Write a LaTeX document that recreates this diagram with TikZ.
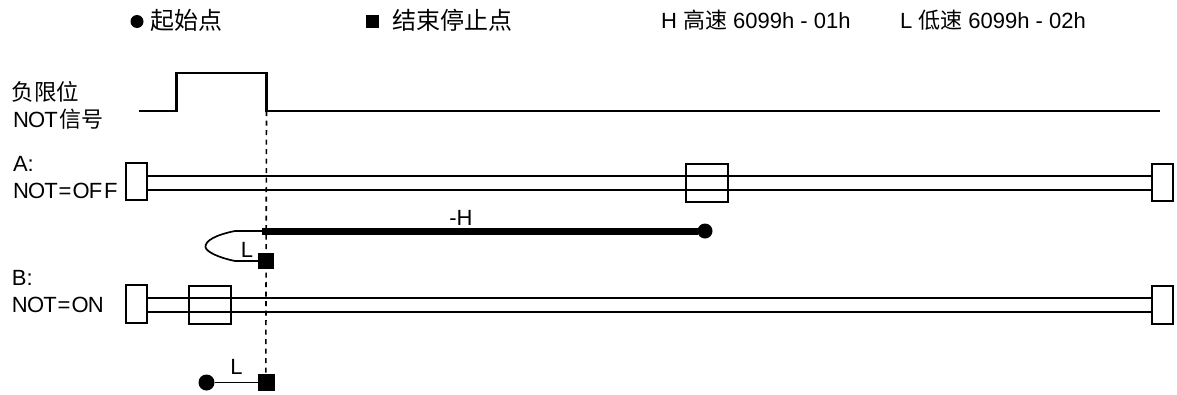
\documentclass[tikz,border=0pt]{standalone}
\usepackage{fontspec}
\setmainfont{Liberation Sans}
\newfontfamily\cjk{Noto Sans CJK SC}
\begin{document}
\begin{tikzpicture}[x=1pt,y=-1pt,
  sig/.style={line width=2.4pt,black},
  rail/.style={line width=2.2pt,black},
  stopbox/.style={draw=black,line width=2.4pt,fill=white,minimum width=21pt,minimum height=37pt,inner sep=0pt,outer sep=0pt},
  posbox/.style={draw=black,line width=2.4pt,minimum width=42pt,minimum height=38pt,inner sep=0pt,outer sep=0pt},
  startdot/.style={circle,fill=black,inner sep=0pt,outer sep=0pt,minimum size=15pt},
  enddot/.style={rectangle,fill=black,inner sep=0pt,outer sep=0pt,minimum size=16pt},
  lbl/.style={font=\fontsize{22}{25}\selectfont,inner sep=0pt,outer sep=0pt,text=black},
  head/.style={font=\fontsize{22}{25}\selectfont,inner sep=0pt,outer sep=0pt,anchor=base west,text=black}]
\useasboundingbox (0,0) rectangle (1177,394);
% legend
\node[circle,fill=black,inner sep=0pt,minimum size=13pt] (lc) at (137,21.5) {};
\node[head,font=\fontsize{24}{27}\selectfont\cjk] (lt1) at (150,29) {起始点};
\node[rectangle,fill=black,inner sep=0pt,minimum size=13pt] (ls) at (372.5,21) {};
\node[head,font=\fontsize{24}{27}\selectfont\cjk] (lt2) at (392,29) {结束停止点};
\node[head] (lt3) at (661,28) {H {\cjk 高速} 6099h - 01h};
\node[head] (lt4) at (900,28) {L {\cjk 低速} 6099h - 02h};
% signal
\coordinate (s0) at (139,111);
\coordinate (s1) at (176.5,111);
\coordinate (s2) at (176.5,73);
\coordinate (s3) at (266.5,73);
\coordinate (s4) at (266.5,111);
\coordinate (s5) at (1160,111);
\draw[sig,line join=miter] (s0)--(s1)--(s2)--(s3)--(s4)--(s5);
\coordinate (dend) at (265.8,376);
\draw[line width=1.6pt,dash pattern=on 5pt off 4.5pt] (s4)--(dend);
% left labels
\node[lbl,anchor=base west,font=\fontsize{22.5}{26}\selectfont\cjk] (t1) at (12,100) {负限位};
\node[lbl,anchor=base west] (t2) at (13,127) {\addfontfeature{LetterSpace=-4}NOT{\kern2pt\cjk 信号}};
\node[lbl,anchor=base west] (t3) at (13,171) {A:};
\node[lbl,anchor=base west] (t4) at (13,198) {\addfontfeature{LetterSpace=-4}NOT{\kern1pt=\kern1pt}OF{\kern2pt}F};
\node[lbl,anchor=base west] (t5) at (12,285) {B:};
\node[lbl,anchor=base west] (t6) at (12,312) {\addfontfeature{LetterSpace=-4}NOT{\kern1pt=\kern1pt}ON};
% A rails
\node[stopbox] (al) at (136.5,181.5) {};
\node[stopbox] (ar) at (1162.5,182.5) {};
\draw[rail] (al.east|-0,176)--(ar.west|-0,176);
\draw[rail] (al.east|-0,190)--(ar.west|-0,190);
\node[posbox] (ap) at (707,183) {};
% B rails
\node[stopbox,minimum height=38pt] (bl) at (136.5,304) {};
\node[stopbox,minimum height=38pt] (br) at (1162.5,305) {};
\draw[rail] (bl.east|-0,298)--(br.west|-0,298);
\draw[rail] (bl.east|-0,312)--(br.west|-0,312);
\node[posbox] (bp) at (210,305) {};
% A motion
\node[startdot] (a0) at (705,231) {};
\coordinate (a1) at (262,231);
\draw[line width=7pt] (a0)--(a1);
\node[enddot] (a2) at (266,261) {};
\draw[line width=1.7pt] (a1)--(235,231) .. controls (215,235) and (205,241) .. (205.5,247) .. controls (206,252) and (220,258) .. (235,261) -- (a2);
\node[lbl] (h) at (461,218) {-H};
\node[lbl] (la) at (247,250) {L};
% B motion
\node[startdot,minimum size=16pt] (b0) at (206.5,382.5) {};
\node[enddot,minimum size=17pt] (b1) at (266.5,382.5) {};
\draw[line width=1.7pt] (b0)--(b1);
\node[lbl] (lb) at (236.5,367) {L};
\end{tikzpicture}
\end{document}
